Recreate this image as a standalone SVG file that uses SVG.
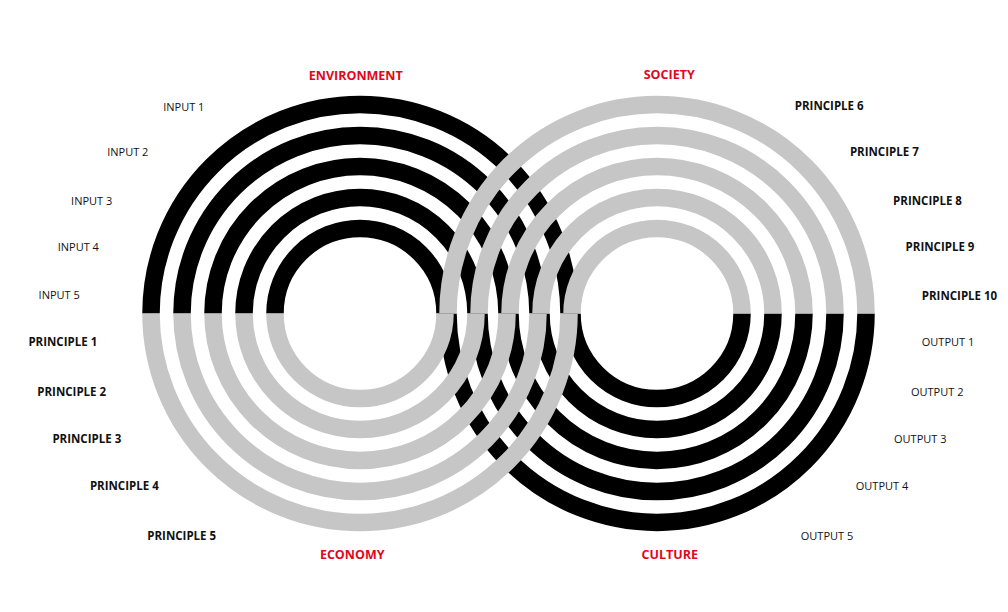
<svg xmlns="http://www.w3.org/2000/svg" width="1008" height="612" viewBox="0 0 1008 612">
<style>
.blk{fill:none;stroke:#000;stroke-width:17.5}
.gry{fill:none;stroke:#c6c6c6;stroke-width:17.5}
text{font-family:"Open Sans","Liberation Sans",sans-serif;text-anchor:middle;fill:#111}
.reg{font-size:11px}
.bld{font-size:11.5px;font-weight:bold}
.cat{font-size:12.5px;font-weight:bold;fill:#e3061a}
</style>
<rect width="1008" height="612" fill="#fff"/>
<g id="black-arcs">
<path class="blk" d="M151 313.5A209 209 0 0 1 569 313.5"/>
<path class="blk" d="M182 313.5A178 178 0 0 1 538 313.5"/>
<path class="blk" d="M213 313.5A147 147 0 0 1 507 313.5"/>
<path class="blk" d="M244 313.5A116 116 0 0 1 476 313.5"/>
<path class="blk" d="M275 313.5A85 85 0 0 1 445 313.5"/>
<path class="blk" d="M448 313.5A209 209 0 0 0 866 313.5"/>
<path class="blk" d="M479 313.5A178 178 0 0 0 835 313.5"/>
<path class="blk" d="M510 313.5A147 147 0 0 0 804 313.5"/>
<path class="blk" d="M541 313.5A116 116 0 0 0 773 313.5"/>
<path class="blk" d="M572 313.5A85 85 0 0 0 742 313.5"/>
</g>
<g id="gray-arcs">
<path class="gry" d="M151 313.5A209 209 0 0 0 569 313.5"/>
<path class="gry" d="M182 313.5A178 178 0 0 0 538 313.5"/>
<path class="gry" d="M213 313.5A147 147 0 0 0 507 313.5"/>
<path class="gry" d="M244 313.5A116 116 0 0 0 476 313.5"/>
<path class="gry" d="M275 313.5A85 85 0 0 0 445 313.5"/>
<path class="gry" d="M448 313.5A209 209 0 0 1 866 313.5"/>
<path class="gry" d="M479 313.5A178 178 0 0 1 835 313.5"/>
<path class="gry" d="M510 313.5A147 147 0 0 1 804 313.5"/>
<path class="gry" d="M541 313.5A116 116 0 0 1 773 313.5"/>
<path class="gry" d="M572 313.5A85 85 0 0 1 742 313.5"/>
</g>
<g id="categories">
<text class="cat" x="355.8" y="79.7">ENVIRONMENT</text>
<text class="cat" x="669.2" y="79">SOCIETY</text>
<text class="cat" x="352.2" y="559">ECONOMY</text>
<text class="cat" x="669.7" y="559">CULTURE</text>
</g>
<g id="inputs">
<text class="reg" x="183.8" y="110.7">INPUT 1</text>
<text class="reg" x="127.8" y="155.7">INPUT 2</text>
<text class="reg" x="91.7" y="205">INPUT 3</text>
<text class="reg" x="78.3" y="251">INPUT 4</text>
<text class="reg" x="59.2" y="299">INPUT 5</text>
</g>
<g id="principles-left">
<text class="bld" x="62.8" y="345.7">PRINCIPLE 1</text>
<text class="bld" x="71.7" y="395.7">PRINCIPLE 2</text>
<text class="bld" x="86.8" y="443.3">PRINCIPLE 3</text>
<text class="bld" x="124.3" y="490">PRINCIPLE 4</text>
<text class="bld" x="181.7" y="540">PRINCIPLE 5</text>
</g>
<g id="principles-right">
<text class="bld" x="829.2" y="110">PRINCIPLE 6</text>
<text class="bld" x="884.3" y="155.7">PRINCIPLE 7</text>
<text class="bld" x="927.5" y="205">PRINCIPLE 8</text>
<text class="bld" x="940" y="251">PRINCIPLE 9</text>
<text class="bld" x="959.5" y="300">PRINCIPLE 10</text>
</g>
<g id="outputs">
<text class="reg" x="948" y="345.7">OUTPUT 1</text>
<text class="reg" x="937.2" y="395.7">OUTPUT 2</text>
<text class="reg" x="920.3" y="443.3">OUTPUT 3</text>
<text class="reg" x="882" y="490">OUTPUT 4</text>
<text class="reg" x="827" y="540">OUTPUT 5</text>
</g>
</svg>
